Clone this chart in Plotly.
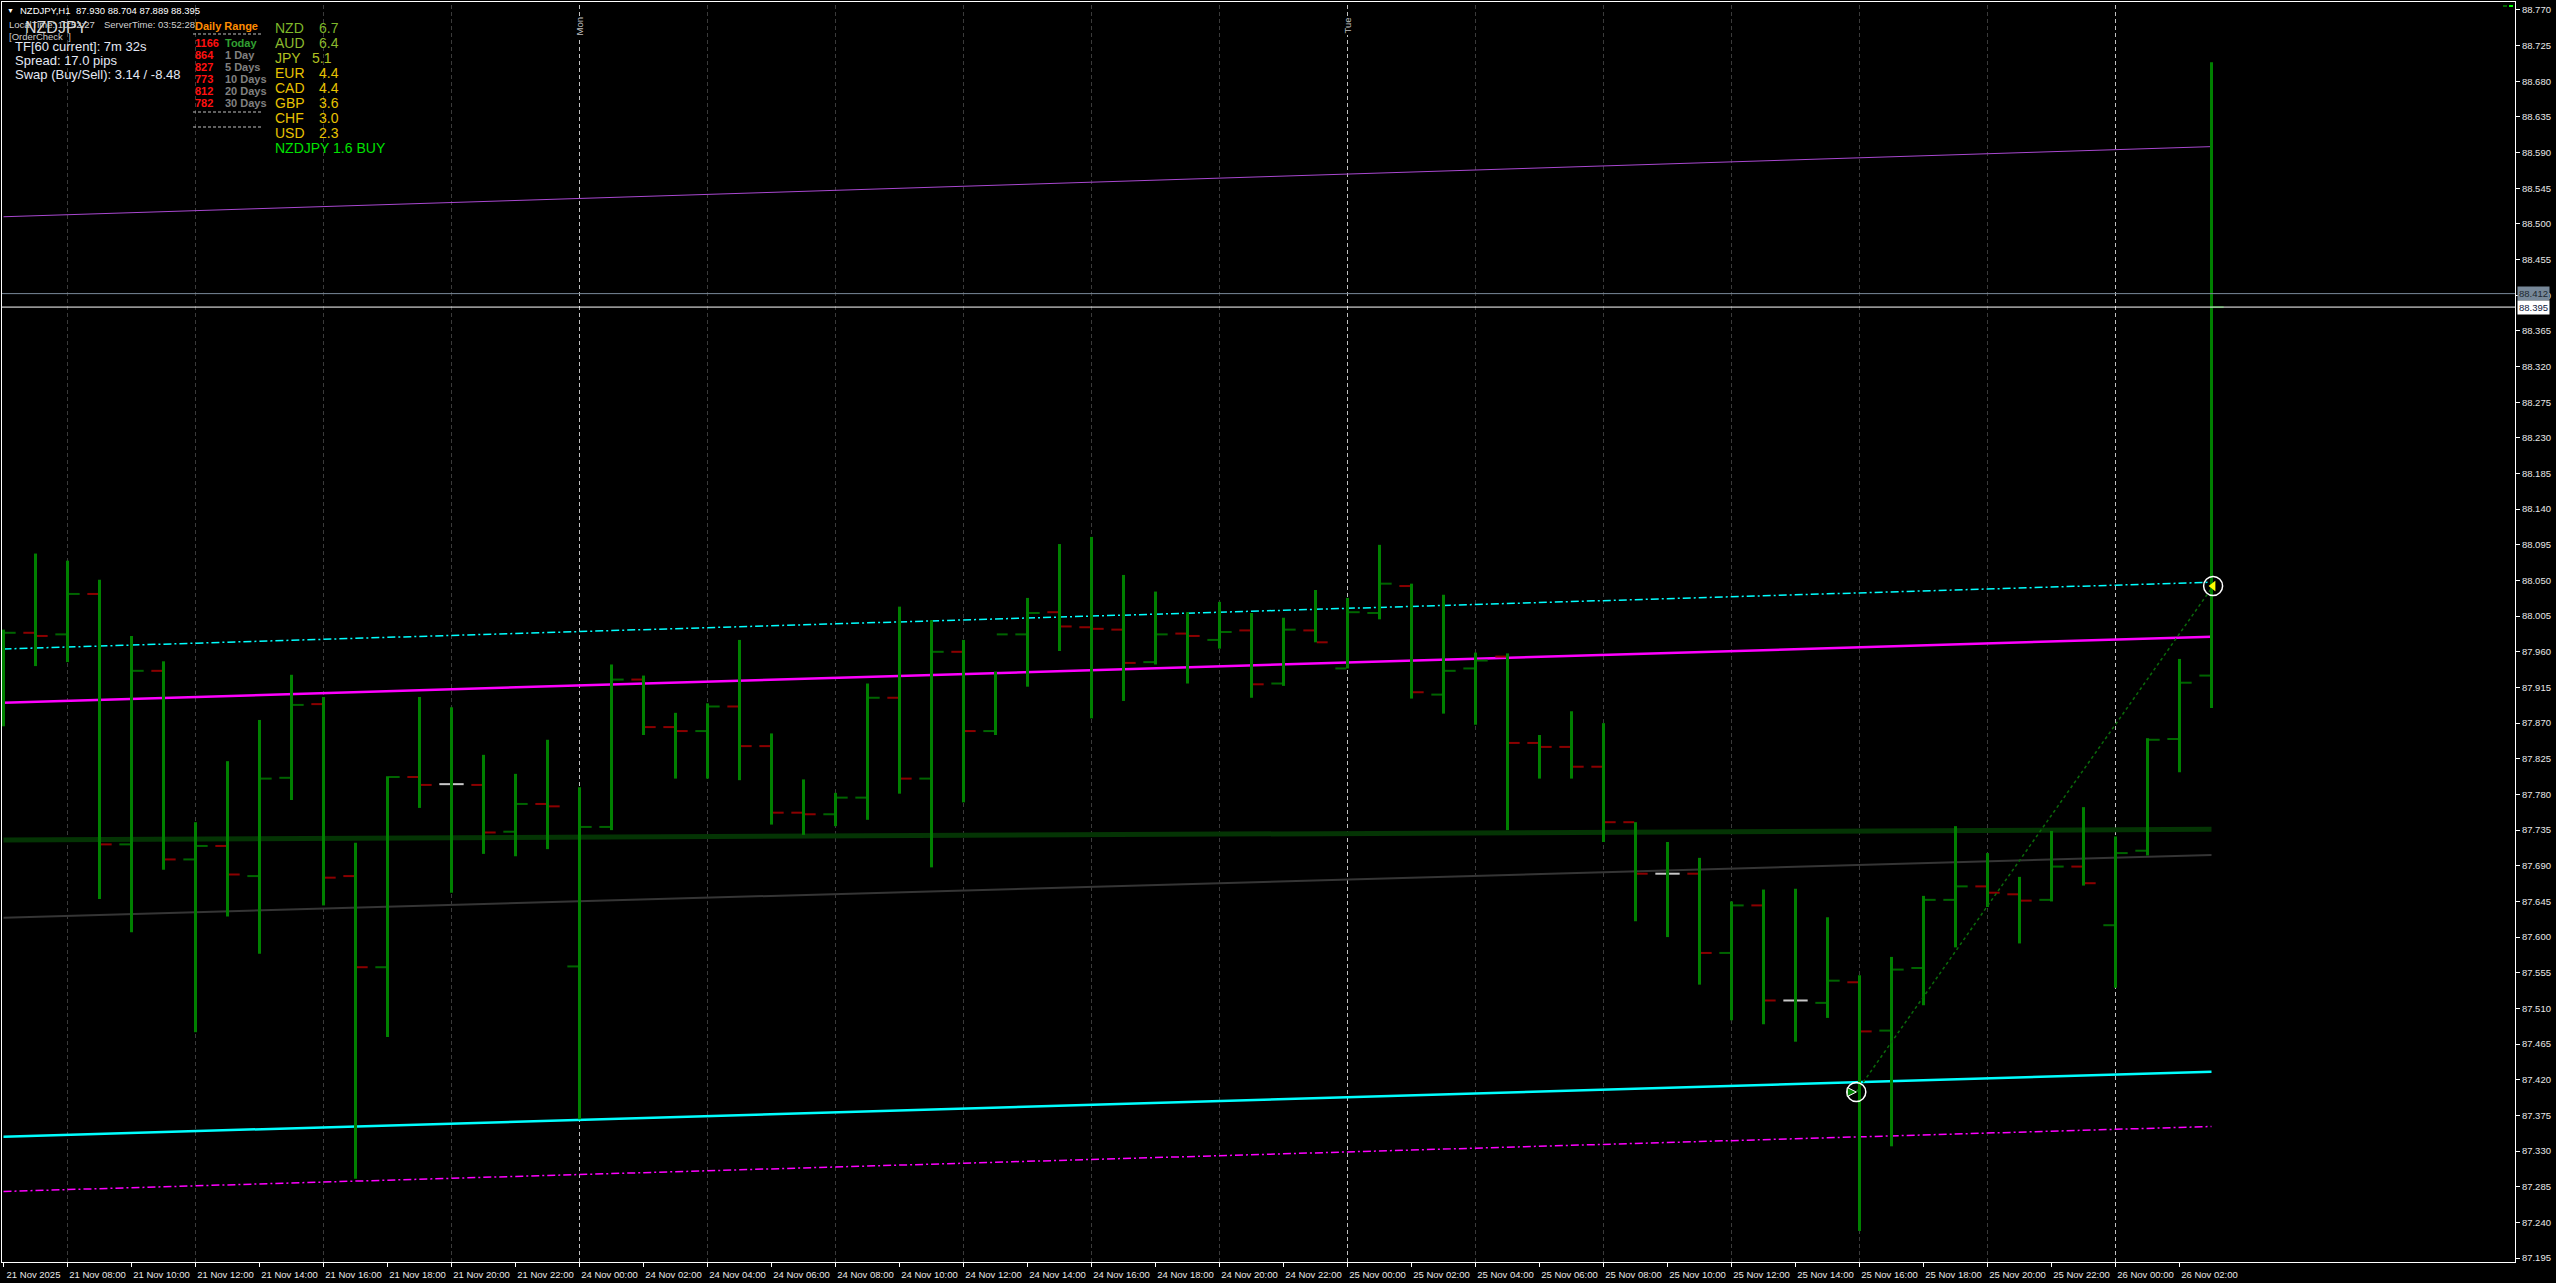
import pandas as pd
import plotly.graph_objects as go

# ---------------- data ----------------
times = (list(pd.date_range("2025-11-21 06:00", "2025-11-21 23:00", freq="h")) +
         list(pd.date_range("2025-11-24 00:00", "2025-11-25 23:00", freq="h")) +
         list(pd.date_range("2025-11-26 00:00", "2025-11-26 03:00", freq="h")))

opens = [87.925, 87.984, 87.982, 88.033, 87.717, 87.936, 87.698, 87.715, 87.677, 87.801,
         87.894, 87.677, 87.562, 87.802, 87.793, 87.792, 87.733, 87.768, 87.563, 87.739,
         87.925, 87.865, 87.860, 87.891, 87.841, 87.757, 87.755, 87.776, 87.902, 87.800,
         87.960, 87.860, 87.982, 88.010, 87.991, 87.988, 87.947, 87.983, 87.975, 87.987,
         87.920, 87.987, 87.939, 88.009, 88.043, 87.906, 87.939, 87.954, 87.845, 87.840,
         87.815, 87.745, 87.680, 87.680, 87.580, 87.640, 87.520, 87.517, 87.543, 87.482,
         87.561, 87.647, 87.664, 87.654, 87.647, 87.689, 87.615, 87.709, 87.850, 87.930]
highs = [87.988, 88.084, 88.075, 88.051, 87.980, 87.948, 87.745, 87.822, 87.874, 87.931,
         87.903, 87.719, 87.803, 87.903, 87.890, 87.830, 87.806, 87.849, 87.789, 87.944,
         87.930, 87.883, 87.895, 87.975, 87.857, 87.799, 87.782, 87.920, 88.017, 88.000,
         87.975, 87.935, 88.028, 88.096, 88.105, 88.057, 88.036, 88.010, 88.023, 88.009,
         88.003, 88.038, 88.028, 88.095, 88.046, 88.032, 87.959, 87.958, 87.855, 87.885,
         87.870, 87.745, 87.720, 87.700, 87.645, 87.660, 87.661, 87.625, 87.552, 87.575,
         87.652, 87.740, 87.706, 87.676, 87.734, 87.764, 87.727, 87.851, 87.951, 88.704]
lows = [87.866, 87.942, 87.947, 87.648, 87.606, 87.685, 87.480, 87.626, 87.579, 87.773,
        87.640, 87.295, 87.474, 87.763, 87.656, 87.705, 87.702, 87.711, 87.370, 87.735,
        87.855, 87.800, 87.800, 87.798, 87.742, 87.729, 87.740, 87.748, 87.781, 87.688,
        87.770, 87.855, 87.916, 87.961, 87.876, 87.898, 87.944, 87.920, 87.964, 87.902,
        87.917, 87.972, 87.939, 88.001, 87.901, 87.882, 87.868, 87.735, 87.800, 87.800,
        87.720, 87.620, 87.600, 87.540, 87.495, 87.490, 87.468, 87.498, 87.229, 87.336,
        87.514, 87.587, 87.638, 87.592, 87.645, 87.665, 87.536, 87.703, 87.808, 87.889]
closes = [87.984, 87.980, 88.033, 87.717, 87.936, 87.698, 87.715, 87.679, 87.800, 87.893,
          87.675, 87.562, 87.802, 87.792, 87.793, 87.732, 87.768, 87.765, 87.739, 87.925,
          87.865, 87.860, 87.891, 87.841, 87.757, 87.755, 87.776, 87.902, 87.800, 87.960,
          87.860, 87.982, 88.009, 87.992, 87.989, 87.946, 87.982, 87.980, 87.985, 87.919,
          87.988, 87.972, 88.010, 88.046, 87.909, 87.936, 87.949, 87.845, 87.840, 87.815,
          87.745, 87.680, 87.680, 87.580, 87.640, 87.520, 87.520, 87.545, 87.481, 87.559,
          87.647, 87.664, 87.656, 87.646, 87.689, 87.668, 87.706, 87.849, 87.921, 88.395]

# regression-channel style indicator lines: value at first bar, value at last bar
line_names = ["violet", "cyan_dd", "magenta", "dkgreen", "gray", "cyan", "magenta_dd"]
line_start = [88.509, 87.9636, 87.8958, 87.7225, 87.6245, 87.348, 87.279]
line_end = [88.5975, 88.0478, 87.979, 87.736, 87.7036, 87.430, 87.361]

ask_price = 88.412
bid_price = 88.395

# arrow markers (bar position, price)
signal_x = [57.9, 69.05]
signal_y = [87.4045, 88.043]

y_ticks = [87.195 + 0.045 * k for k in range(36)]

range_labels = ["Today", "1 Day", "5 Days", "10 Days", "20 Days", "30 Days"]
range_values = [1166, 864, 827, 773, 812, 782]
currencies = ["NZD", "AUD", "JPY", "EUR", "CAD", "GBP", "CHF", "USD"]
strengths = ["6.7", "6.4", "5.1", "4.4", "4.4", "3.6", "3.0", "2.3"]
signal_text = "NZDJPY 1.6 BUY"

# ---------------- geometry ----------------
W, H = 2556, 1283
PL, PR, PT, PB = 2, 2515, 2, 1262
FONT = "Liberation Sans"


def fx(px):
    return (px - PL) / (PR - PL)


def fy(py):
    return (PB - py) / (PB - PT)


n = len(opens)
idx = list(range(n))

fig = go.Figure()

# indicator lines
line_styles = {
    "violet": dict(color="#A848D0", width=1),
    "cyan_dd": dict(color="#00FFFF", width=1.5, dash="8px,3px,2px,3px"),
    "magenta": dict(color="#FF00FF", width=2.5),
    "dkgreen": dict(color="#043404", width=5),
    "gray": dict(color="#353535", width=2),
    "cyan": dict(color="#00FFFF", width=2.5),
    "magenta_dd": dict(color="#FF00FF", width=1.5, dash="8px,3px,2px,3px"),
}
for nm, a, b in zip(line_names, line_start, line_end):
    fig.add_trace(go.Scatter(x=[0, n - 1], y=[a, b], mode="lines",
                             line=line_styles[nm], hoverinfo="skip", showlegend=False))

# bars
vx, vy = [], []
ticks = {"up": ([], []), "dn": ([], []), "eq": ([], [])}
for i in idx:
    o, h, l, c = opens[i], highs[i], lows[i], closes[i]
    vx += [i, i, None]
    vy += [l, h, None]
    k = "up" if c > o else ("dn" if c < o else "eq")
    tx, ty = ticks[k]
    tx += [i - 0.38, i - 0.04, None, i + 0.04, i + 0.38, None]
    ty += [o, o, None, c, c, None]

tick_colors = {"up": "#006400", "dn": "#8B0000", "eq": "#C8C8C8"}
for k in ["up", "dn", "eq"]:
    tx, ty = ticks[k]
    fig.add_trace(go.Scatter(x=tx, y=ty, mode="lines", line=dict(color=tick_colors[k], width=2),
                             hoverinfo="skip", showlegend=False))
fig.add_trace(go.Scatter(x=vx, y=vy, mode="lines", line=dict(color="#008000", width=3),
                         hoverinfo="skip", showlegend=False))

# dotted signal line
fig.add_trace(go.Scatter(x=signal_x, y=signal_y, mode="lines",
                         line=dict(color="#0A6A0A", width=1.5, dash="dot"),
                         hoverinfo="skip", showlegend=False))
fig.add_trace(go.Scatter(x=signal_x, y=signal_y, mode="markers",
                         marker=dict(symbol="circle-open", size=19, color="white",
                                     line=dict(color="white", width=1.5)),
                         hoverinfo="skip", showlegend=False))
fig.add_trace(go.Scatter(x=[signal_x[0]], y=[signal_y[0]], mode="markers",
                         marker=dict(symbol="arrow-right", size=9, color="#008000",
                                     line=dict(color="white", width=1)),
                         hoverinfo="skip", showlegend=False))
fig.add_trace(go.Scatter(x=[signal_x[1]], y=[signal_y[1]], mode="markers",
                         marker=dict(symbol="triangle-left", size=9, color="#FFFF00",
                                     line=dict(width=0)),
                         hoverinfo="skip", showlegend=False))

shapes = []
annotations = []

# vertical grid (every 4 hours) and day separators
for i in idx:
    t = times[i]
    if t.hour == 0:
        shapes.append(dict(type="line", xref="x", yref="paper", x0=i, x1=i, y0=0, y1=1,
                           line=dict(color="#C0C0C0", width=1, dash="4px,3px"), layer="below"))
    elif t.hour % 4 == 0:
        shapes.append(dict(type="line", xref="x", yref="paper", x0=i, x1=i, y0=0, y1=1,
                           line=dict(color="#3A3A3A", width=1, dash="4px,3px"), layer="below"))

for i in idx:
    t = times[i]
    if t.hour == 0 and t.day in (24, 25):
        annotations.append(dict(x=i, y=fy(16), xref="x", yref="paper", text=t.strftime("%a"),
                                textangle=-90, showarrow=False, bgcolor="black",
                                font=dict(family=FONT, size=9.5, color="#C0C0C0")))

# ask/bid lines
shapes.append(dict(type="line", xref="paper", yref="y", x0=0, x1=1, y0=ask_price, y1=ask_price,
                   line=dict(color="#7A8A9A", width=1)))
shapes.append(dict(type="line", xref="paper", yref="y", x0=0, x1=1, y0=bid_price, y1=bid_price,
                   line=dict(color="#FFFFFF", width=1)))
annotations.append(dict(x=fx(2517), y=ask_price, xref="paper", yref="y", text=f"{ask_price:.3f}",
                        xanchor="left", yanchor="middle", showarrow=False, bgcolor="#778899",
                        borderpad=1, font=dict(family=FONT, size=9.5, color="#202830")))
annotations.append(dict(x=fx(2517), y=bid_price, xref="paper", yref="y", text=f"{bid_price:.3f}",
                        xanchor="left", yanchor="middle", showarrow=False, bgcolor="#FFFFFF",
                        borderpad=1, font=dict(family=FONT, size=9.5, color="#102040")))

# tiny status squares top-right
shapes.append(dict(type="rect", xref="paper", yref="paper", x0=fx(2503), x1=fx(2507),
                   y0=fy(7), y1=fy(5), line=dict(width=0), fillcolor="#006400"))
shapes.append(dict(type="rect", xref="paper", yref="paper", x0=fx(2509), x1=fx(2513),
                   y0=fy(7), y1=fy(5), line=dict(width=0), fillcolor="#00FF00"))


def txt(px, py, s, size, color, bold=False):
    if bold:
        s = "<b>" + s + "</b>"
    annotations.append(dict(x=fx(px), y=fy(py), xref="paper", yref="paper", text=s,
                            xanchor="left", yanchor="middle", showarrow=False,
                            font=dict(family=FONT, size=size, color=color)))


txt(5, 11, "▼", 7, "#FFFFFF")
txt(18, 11, "NZDJPY,H1", 9.5, "#FFFFFF")
txt(74, 11, f"{opens[-1]:.3f} {highs[-1]:.3f} {lows[-1]:.3f} {closes[-1]:.3f}", 9.5, "#FFFFFF")
txt(7, 24, "LocalTime: 10:52:27", 9.5, "#D0D0D0")
txt(102, 24, "ServerTime: 03:52:28", 9.5, "#D0D0D0")
txt(23, 27, "NZDJPY", 16, "#D8D8D8")
txt(7, 36, "[OrderCheck  ]", 9.5, "#C8C8C8")
txt(13, 47, "TF[60 current]: 7m 32s", 13, "#E4E8F4")
txt(13, 61, "Spread: 17.0 pips", 13, "#E4E8F4")
txt(13, 74, "Swap (Buy/Sell): 3.14 / -8.48", 13, "#E4E8F4")

txt(193, 26, "Daily Range", 11, "#FF8C00", bold=True)
for k, (lab, val) in enumerate(zip(range_labels, range_values)):
    y = 43 + 12 * k
    txt(193, y, str(val), 11, "#FF1010", bold=True)
    txt(223, y, lab, 11, "#32A032" if k == 0 else "#808080", bold=True)
for yy in (34, 112, 127):
    shapes.append(dict(type="line", xref="paper", yref="paper", x0=fx(193), x1=fx(261),
                       y0=fy(yy), y1=fy(yy), line=dict(color="#C0C0C0", width=1, dash="3px,2px")))

cur_colors = ["#7FB82A", "#8CBA2E", "#B0C020", "#E8C200", "#E8C200", "#E8C200", "#E8C200", "#E8C200"]
for k, (cu, st) in enumerate(zip(currencies, strengths)):
    y = 28 + 15 * k
    txt(273, y, cu, 14, cur_colors[k])
    txt(310 if cu == "JPY" else 317, y, st, 14, cur_colors[k])
txt(273, 148, signal_text, 14, "#00E000")

# x tick labels
tickvals = idx[::2]
ticktext = []
for i in tickvals:
    t = times[i]
    ticktext.append(t.strftime("%d %b %Y") if i == 0 else t.strftime("%d %b %H:%M"))

fig.update_layout(
    width=W, height=H,
    margin=dict(l=PL, r=W - PR, t=PT, b=H - PB),
    paper_bgcolor="black", plot_bgcolor="black",
    showlegend=False,
    shapes=shapes, annotations=annotations,
    xaxis=dict(range=[(PL - 3.5) / 32, (PR - 3.5) / 32], showgrid=False, zeroline=False,
               showline=True, linecolor="white", linewidth=1, mirror=True,
               ticks="outside", ticklen=4, tickcolor="white", tickwidth=1,
               tickvals=tickvals, ticktext=ticktext, ticklabelshift=30,
               tickfont=dict(family=FONT, size=9.5, color="#E8E8E8")),
    yaxis=dict(range=[87.190, 88.780], side="right", showgrid=False, zeroline=False,
               showline=True, linecolor="white", linewidth=1, mirror=True,
               ticks="outside", ticklen=4, tickcolor="white", tickwidth=1,
               tickvals=y_ticks, ticktext=[f"{v:.3f}" for v in y_ticks],
               tickfont=dict(family=FONT, size=9.5, color="#E8E8E8")),
)

fig.write_html("out.html", config={"displayModeBar": False},
               post_script="document.body.style.margin='0';document.body.style.overflow='hidden';"
                           "document.body.style.background='black';")
